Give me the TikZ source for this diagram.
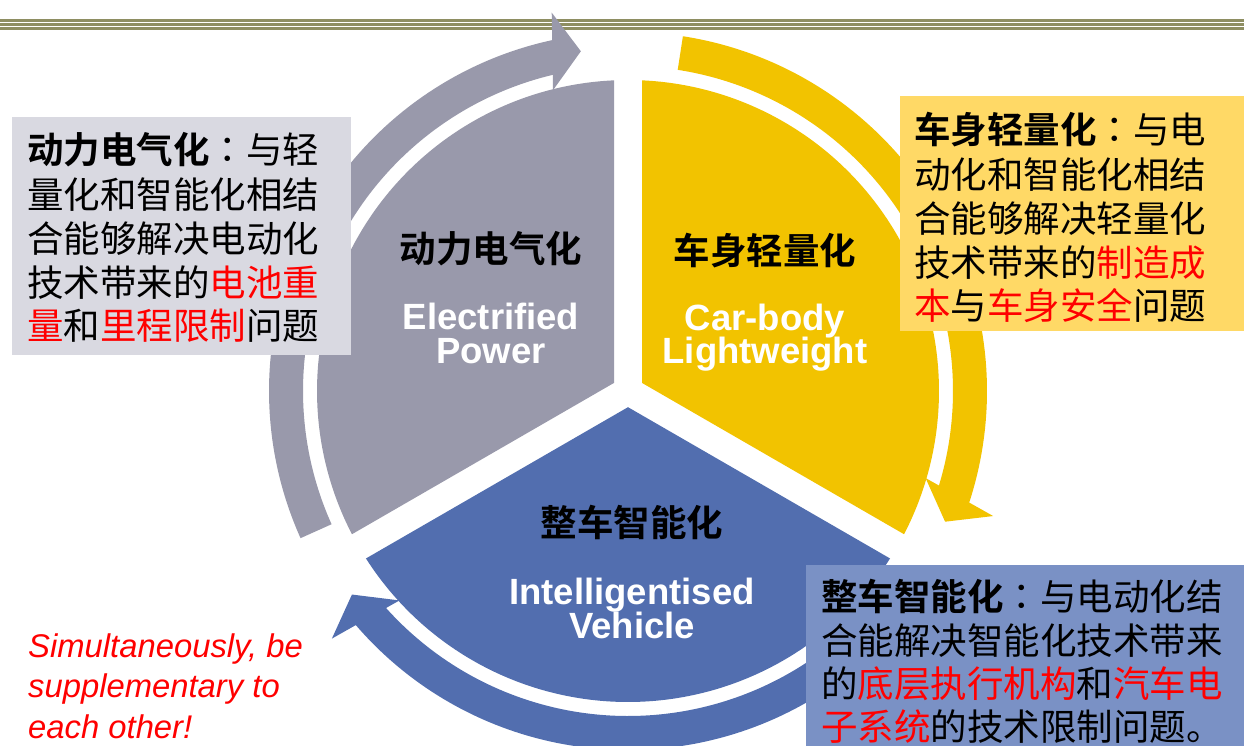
\documentclass[tikz,border=0pt]{standalone}
\usepackage{fontspec}
\newfontfamily\cjk{Noto Sans CJK SC}[BoldFont={Noto Sans CJK SC Bold}]
\newfontfamily\cjktc{Noto Sans CJK TC}
\newfontfamily\arialf{Liberation Sans}
\newcommand{\fwcolon}{{\cjktc ：}}
\definecolor{rulec}{HTML}{8E8E62}
\definecolor{gsec}{HTML}{9999AB}
\definecolor{ysec}{HTML}{F2C300}
\definecolor{bsec}{HTML}{526EAF}
\definecolor{gbox}{HTML}{D9D9E1}
\definecolor{ybox}{HTML}{FFD966}
\definecolor{bbox}{HTML}{7A91C5}
\begin{document}
\begin{tikzpicture}[x=1pt,y=1pt,
  sectortitle/.style={font=\cjk\bfseries\fontsize{36.5}{44}\selectfont, anchor=base, inner sep=0},
  englabel/.style={font=\arialf\bfseries\fontsize{36.5}{36}\selectfont, text=white, anchor=base, inner sep=0},
  descbox/.style={anchor=north west, inner sep=0, outer sep=0},
  desctext/.style={anchor=north west, inner sep=0, align=left, font=\cjk\fontsize{36.5}{43.7}\selectfont},
  redtext/.style={anchor=base west, inner sep=0, text=red, font=\arialf\itshape\fontsize{32.8}{40}\selectfont},
  rulestyle/.style={draw=rulec, line width=2.6pt}
]
\useasboundingbox (0,0) rectangle (1244,-745);
\clip (0,0) rectangle (1244,-745);
% top rules
\coordinate (rl1) at (0,-20.3); \coordinate (rr1) at (1244,-20.3);
\coordinate (rl2) at (0,-24.5); \coordinate (rr2) at (1244,-24.5);
\coordinate (rl3) at (0,-28.3); \coordinate (rr3) at (1244,-28.3);
\draw[rulestyle] (rl1) -- (rr1);
\draw[rulestyle] (rl2) -- (rr2);
\draw[rulestyle] (rl3) -- (rr3);
\begin{scope}[shift={(628,-391)}]
  % sectors
  \fill[gsec] (150:16.17pt) -- (92.58:311pt) arc[start angle=92.58, end angle=207.42, radius=311pt] -- cycle;
  \fill[bsec] (270:16.17pt) -- (212.58:311pt) arc[start angle=212.58, end angle=327.42, radius=311pt] -- cycle;
  \fill[ysec] (30:16.17pt) -- (-27.42:311pt) arc[start angle=-27.42, end angle=87.42, radius=311pt] -- cycle;
  % gray circular arrow
  \fill[gsec] (204.2:359pt) arc[start angle=204.2, end angle=101.7, radius=359pt] -- (101.7:325pt) arc[start angle=101.7, end angle=204.2, radius=325pt] -- cycle;
  \fill[gsec] (104.0:310pt) -- (101.4:386pt) -- (97.9:343pt) -- cycle;
  % yellow circular arrow
  \fill[ysec] (81.2:359pt) arc[start angle=81.2, end angle=-18.6, radius=359pt] -- (-18.6:325pt) arc[start angle=-18.6, end angle=81.2, radius=325pt] -- cycle;
  \fill[ysec] (-16.3:310pt) -- (-18.9:386pt) -- (-22.4:343pt) -- cycle;
  % blue circular arrow
  \fill[bsec] (-38:359pt) arc[start angle=-38, end angle=-139.8, radius=359pt] -- (-139.8:325pt) arc[start angle=-139.8, end angle=-38, radius=325pt] -- cycle;
  \fill[bsec] (-137.5:310pt) -- (-140.1:386pt) -- (-143.6:343pt) -- cycle;
\end{scope}
% sector titles
\node[sectortitle] (t1) at (491,-262) {动力电气化};
\node[englabel] (e1a) at (491,-329.5) {Electrified};
\node[englabel] (e1b) at (491,-363) {Power};
\node[sectortitle] (t2) at (765,-264) {车身轻量化};
\node[englabel] (e2a) at (765,-330) {Car-body};
\node[englabel] (e2b) at (765,-363) {Lightweight};
\node[sectortitle] (t3) at (632,-536) {整车智能化};
\node[englabel] (e3a) at (632,-604) {Intelligentised};
\node[englabel] (e3b) at (632,-638) {Vehicle};
% description boxes
\node[descbox, fill=gbox, minimum width=339pt, minimum height=238pt] (lbox) at (12,-117) {};
\node[descbox, fill=ybox, minimum width=344pt, minimum height=235pt] (ybx) at (900,-96) {};
\node[descbox, fill=bbox, minimum width=438pt, minimum height=185pt] (bbx) at (806,-565) {};
\node[desctext] (ltxt) at (27,-132.4) {\strut\textbf{动力电气化}\fwcolon 与轻\\量化和智能化相结\\合能够解决电动化\\技术带来的\textcolor{red}{电池重}\\\textcolor{red}{量}和\textcolor{red}{里程限制}问题};
\node[desctext] (ytxt) at (914,-112.4) {\strut\textbf{车身轻量化}\fwcolon 与电\\动化和智能化相结\\合能够解决轻量化\\技术带来的\textcolor{red}{制造成}\\\textcolor{red}{本}与\textcolor{red}{车身安全}问题};
\node[desctext, font=\cjk\fontsize{36.5}{43}\selectfont] (btxt) at (821,-578.5) {\strut\textbf{整车智能化}\fwcolon 与电动化结\\合能解决智能化技术带来\\的\textcolor{red}{底层执行机构}和\textcolor{red}{汽车电}\\\textcolor{red}{子系统}的技术限制问题。};
% red remark
\node[redtext] (r1) at (28,-657) {Simultaneously, be};
\node[redtext] (r2) at (28,-697) {supplementary to};
\node[redtext] (r3) at (28,-738) {each other!};
\end{tikzpicture}
\end{document}
